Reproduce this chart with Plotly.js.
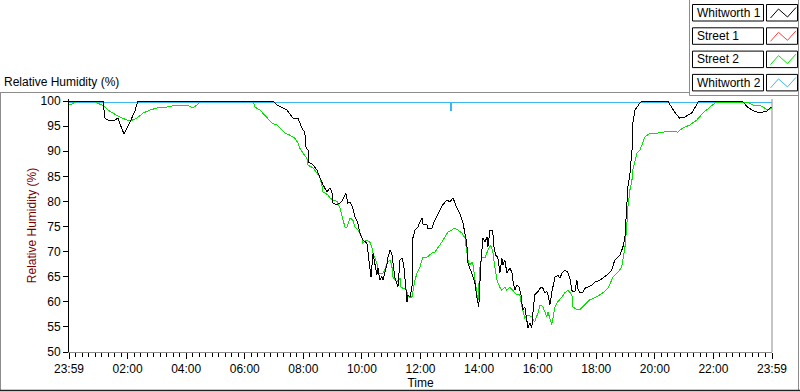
<!DOCTYPE html>
<html>
<head>
<meta charset="utf-8">
<script src="https://cdn.plot.ly/plotly-3.0.1.min.js"></script>
<style>
html,body{margin:0;padding:0;background:#fff;}
#chart{width:800px;height:392px;}
#chart .scatterlayer .js-line{shape-rendering:crispEdges;}
</style>
</head>
<body>
<div id="chart"></div>
<script>
// ---------- data ----------
const seriesNames = ["Whitworth 1", "Street 1", "Street 2", "Whitworth 2"];
const seriesColors = ["#000000", "#ff3c3c", "#00e600", "#3cb8f0"];

const hourTicks = [0, 2, 4, 6, 8, 10, 12, 14, 16, 18, 20, 22, 24];
const hourLabels = ["23:59", "02:00", "04:00", "06:00", "08:00", "10:00", "12:00", "14:00", "16:00", "18:00", "20:00", "22:00", "23:59"];
const rhTicks = [50, 55, 60, 65, 70, 75, 80, 85, 90, 95, 100];

const whitworth1Hours = [0,1.16,1.23,1.40,1.57,1.67,1.77,1.88,2.08,2.25,2.35,6.96,7.10,7.44,7.65,7.82,7.95,8.05,8.09,8.16,8.19,8.33,8.46,8.57,8.67,8.81,8.91,8.98,9.01,9.15,9.32,9.45,9.52,9.59,9.69,9.76,9.86,9.93,10.03,10.17,10.20,10.27,10.31,10.38,10.44,10.51,10.55,10.61,10.68,10.72,10.85,10.89,10.96,11.02,11.06,11.13,11.19,11.23,11.30,11.37,11.43,11.47,11.50,11.54,11.57,11.64,11.71,11.74,11.81,11.91,11.98,12.05,12.08,12.22,12.25,12.39,12.49,12.66,12.76,12.90,13.00,13.11,13.24,13.34,13.45,13.58,13.62,13.75,13.86,13.92,13.99,14.06,14.13,14.20,14.27,14.30,14.37,14.44,14.47,14.51,14.57,14.64,14.71,14.78,14.81,14.88,14.95,15.05,15.12,15.15,15.22,15.29,15.36,15.43,15.49,15.56,15.63,15.67,15.73,15.80,15.84,15.90,16.01,16.08,16.14,16.18,16.25,16.31,16.35,16.42,16.48,16.52,16.59,16.69,16.76,16.83,16.93,17.03,17.10,17.17,17.20,17.27,17.34,17.37,17.44,17.54,17.61,17.71,17.85,17.95,18.12,18.36,18.53,18.63,18.81,18.91,18.98,19.04,19.08,19.15,19.22,19.25,19.32,19.49,19.56,20.44,20.58,20.72,20.85,21.02,21.26,21.50,22.97,23.17,23.31,23.48,23.69,23.82,23.93,24.0];
const whitworth1RH = [100,100,96.5,96.0,96.2,96.6,95.0,93.4,95.8,98.0,100,100,99.2,98.2,96.6,96.6,94.6,93.8,90.8,90.2,87.8,87.3,86.3,84.7,83.3,81.9,82.7,81.7,79.7,79.3,80.0,81.7,79.7,79.9,78.7,76.9,75.7,73.7,72.3,71.7,70.3,67.3,64.9,69.7,67.7,65.3,66.7,64.3,65.0,64.3,67.3,68.9,70.3,69.7,67.7,64.7,63.7,63.0,68.3,68.7,67.3,64.3,62.3,60.0,61.4,61.0,63.0,72.7,74.3,74.9,75.9,76.7,75.5,75.3,74.7,74.7,76.3,78.3,79.3,80.3,79.9,80.7,78.7,77.7,75.7,71.7,67.7,65.7,63.7,61.0,59.0,67.7,72.7,71.9,72.9,70.9,74.3,74.3,73.7,70.9,69.3,68.9,65.7,68.7,67.3,68.3,65.7,66.7,65.9,64.3,62.3,63.3,63.0,61.4,58.4,59.0,56.4,54.8,55.8,54.8,57.8,61.4,62.0,62.7,62.9,62.7,61.8,62.0,61.4,59.4,61.8,63.0,64.9,65.3,64.7,65.7,66.3,65.9,64.7,62.3,62.0,62.0,64.3,62.7,61.8,61.8,62.7,62.9,63.3,63.9,64.3,65.3,66.3,68.3,69.3,70.9,72.9,78.9,82.9,85.5,90.2,95.6,98.2,99.6,100,100,98.8,97.4,96.6,96.8,97.6,100,100,98.8,98.2,97.8,97.8,98.0,98.6,98.8];

const street1Hours = [];
const street1RH = [];

const street2Hours = [0,0.10,0.20,0.89,0.96,1.13,1.23,1.33,1.50,1.74,1.98,2.08,2.32,2.53,2.76,3.00,3.34,3.69,4.03,4.20,4.23,4.37,4.47,6.28,6.35,6.52,6.69,6.79,6.93,7.10,7.20,7.37,7.54,7.71,7.82,7.88,7.99,8.12,8.16,8.33,8.46,8.57,8.63,8.67,8.84,8.91,9.01,9.15,9.25,9.35,9.42,9.49,9.59,9.69,9.76,9.86,10.0,10.03,10.17,10.27,10.34,10.38,10.51,10.55,10.68,10.72,10.78,10.85,10.96,11.02,11.06,11.19,11.30,11.33,11.40,11.50,11.57,11.64,11.71,11.74,11.81,11.88,11.98,12.05,12.08,12.22,12.39,12.49,12.59,12.73,12.83,12.94,13.07,13.17,13.28,13.41,13.52,13.58,13.62,13.69,13.75,13.79,13.86,13.96,14.03,14.10,14.20,14.30,14.40,14.47,14.54,14.61,14.71,14.78,14.88,14.95,15.05,15.15,15.29,15.39,15.46,15.56,15.67,15.80,15.90,16.01,16.08,16.18,16.31,16.35,16.48,16.59,16.69,16.83,16.93,17.03,17.17,17.20,17.34,17.44,17.61,17.78,18.02,18.23,18.40,18.57,18.74,18.87,18.91,18.98,19.04,19.08,19.15,19.22,19.25,19.39,19.49,19.66,19.83,20.07,20.27,20.51,20.78,20.95,21.19,21.43,21.64,21.88,22.05,22.39,23.14,23.34,23.58,23.75,23.86,24.0];
const street2RH = [99.2,99.4,99.8,100,99.6,99.2,98.8,98.2,97.6,96.8,96.2,96.0,96.6,97.6,98.2,98.6,98.8,99.2,99.2,98.8,98.6,99.2,99.8,100,98.8,98.2,97.2,96.6,95.6,95.2,94.6,93.6,93.2,92.6,91.6,90.6,89.6,88.6,87.2,86.7,85.7,84.7,83.3,81.9,81.3,80.7,80.3,80.0,78.7,76.3,74.9,74.9,76.7,76.3,74.9,74.3,72.9,71.7,72.3,71.9,70.9,69.7,67.7,65.7,65.7,65.7,66.3,67.7,68.3,67.3,64.9,63.9,64.7,63.0,62.7,62.7,61.4,60.8,61.0,62.3,64.3,65.7,66.9,68.3,68.9,68.9,69.7,69.9,70.7,71.9,72.9,73.9,74.3,74.7,74.3,73.7,72.7,70.3,68.3,67.3,67.9,67.5,64.3,60.0,66.9,68.9,68.7,70.3,71.3,69.9,66.9,64.3,62.9,62.3,62.9,62.3,62.9,62.3,61.4,61.4,59.0,56.8,57.4,57.0,56.0,57.8,59.4,59.0,57.0,58.0,55.4,59.0,60.0,61.0,61.8,62.3,61.4,59.0,58.4,58.4,59.4,60.4,61.0,61.8,62.7,64.9,65.9,66.9,68.3,70.9,74.9,78.9,82.3,84.3,86.3,89.6,90.2,92.8,93.6,93.6,93.8,94.0,93.8,94.6,95.2,96.2,97.6,98.8,99.6,99.8,99.8,99.2,99.2,98.6,98.2,98.6];

const whitworth2Hours = [0, 13.01, 13.03, 13.05, 13.07, 24];
const whitworth2RH = [99.75, 99.75, 98.2, 98.2, 99.75, 99.75];

// ---------- drawing ----------
const FONT = "Liberation Sans, Arial, sans-serif";
const W = 800, H = 392;
const M = {l: 69, r: 28, t: 99, b: 40};
const PW = W - M.l - M.r, PH = H - M.t - M.b;
const px = x => (x - M.l) / PW;
const py = y => (H - M.b - y) / PH;

function line(x0, y0, x1, y1, color, width) {
  return {type: 'line', xref: 'paper', yref: 'paper', x0: px(x0), y0: py(y0), x1: px(x1), y1: py(y1),
          line: {color: color, width: width || 1}, layer: 'above'};
}

const shapes = [
  line(0, 92.5, 689.5, 92.5, '#8c8c8c'),
  line(689.5, 0, 689.5, 95.5, '#8c8c8c'),
  line(689.5, 95.5, 798.5, 95.5, '#8c8c8c'),
  line(798.5, 0, 798.5, 390.5, '#8c8c8c'),
  line(0.5, 92.5, 0.5, 390.5, '#8c8c8c'),
  line(0, 390.5, 800, 390.5, '#222222', 1.5),
  {type: 'line', xref: 'paper', yref: 'paper', x0: 1, x1: 1, y0: 0, y1: 1, line: {color: '#8c8c8c', width: 1}}
];
const annotations = [
  {xref: 'paper', yref: 'paper', x: px(2), y: py(82), xanchor: 'left', yanchor: 'middle', showarrow: false,
   text: 'Relative Humidity (%)', font: {family: FONT, size: 12, color: '#000'}}
];
seriesNames.forEach((name, i) => {
  const top = 4.5 + i * 23.3, bot = top + 16.5;
  shapes.push({type: 'rect', xref: 'paper', yref: 'paper', x0: px(692.5), x1: px(763.5), y0: py(bot), y1: py(top),
               line: {color: '#000', width: 1}, fillcolor: '#fff', layer: 'above'});
  shapes.push({type: 'rect', xref: 'paper', yref: 'paper', x0: px(766.5), x1: px(797.5), y0: py(bot), y1: py(top),
               line: {color: '#000', width: 1}, fillcolor: '#fff', layer: 'above'});
  const x0 = 766.5;
  const pts = [[x0 + 4, top + 13.5], [x0 + 12, top + 4.5], [x0 + 21, top + 12.5], [x0 + 29.5, top + 3]];
  shapes.push({type: 'path', xref: 'paper', yref: 'paper', layer: 'above',
               path: 'M' + pts.map(p => px(p[0]) + ',' + py(p[1])).join(' L'),
               line: {color: seriesColors[i], width: 1}});
  annotations.push({xref: 'paper', yref: 'paper', x: px(694.5), y: py((top + bot) / 2), xanchor: 'left', yanchor: 'middle',
                    showarrow: false, text: name, font: {family: FONT, size: 12, color: '#000'}});
});

const mk = (i, xs, ys) => ({type: 'scatter', mode: 'lines', name: seriesNames[i], x: xs, y: ys,
                            line: {color: seriesColors[i], width: 1}, showlegend: false, hoverinfo: 'skip'});
const data = [
  mk(1, street1Hours, street1RH),
  mk(3, whitworth2Hours, whitworth2RH),
  mk(2, street2Hours, street2RH),
  mk(0, whitworth1Hours, whitworth1RH)
];

const layout = {
  width: W, height: H, margin: M,
  paper_bgcolor: '#fff', plot_bgcolor: '#fff',
  font: {family: FONT, size: 12, color: '#000'},
  showlegend: false,
  xaxis: {
    range: [0, 24], tickmode: 'array', tickvals: hourTicks, ticktext: hourLabels,
    ticks: 'outside', ticklen: 6, tickcolor: '#000', tickwidth: 1,
    minor: {tickmode: 'linear', tick0: 0, dtick: 2 / 9, ticks: 'outside', ticklen: 4, tickcolor: '#000', tickwidth: 1, showgrid: false},
    showline: true, linecolor: '#8c8c8c', linewidth: 1, showgrid: false, zeroline: false,
    tickfont: {family: FONT, size: 12, color: '#000'},
    title: {text: 'Time', font: {family: FONT, size: 12, color: '#000'}, standoff: 3},
    fixedrange: true
  },
  yaxis: {
    range: [50, 100.4], tickmode: 'array', tickvals: rhTicks,
    ticks: 'outside', ticklen: 5, tickcolor: '#000', tickwidth: 1,
    showline: true, linecolor: '#000', linewidth: 1, showgrid: false, zeroline: false,
    tickfont: {family: FONT, size: 12, color: '#000'},
    title: {text: 'Relative Humidity (%)', font: {family: FONT, size: 12, color: '#7a0000'}, standoff: 1},
    fixedrange: true
  },
  shapes: shapes,
  annotations: annotations
};

Plotly.newPlot('chart', data, layout, {displayModeBar: false, staticPlot: true});
</script>
</body>
</html>
